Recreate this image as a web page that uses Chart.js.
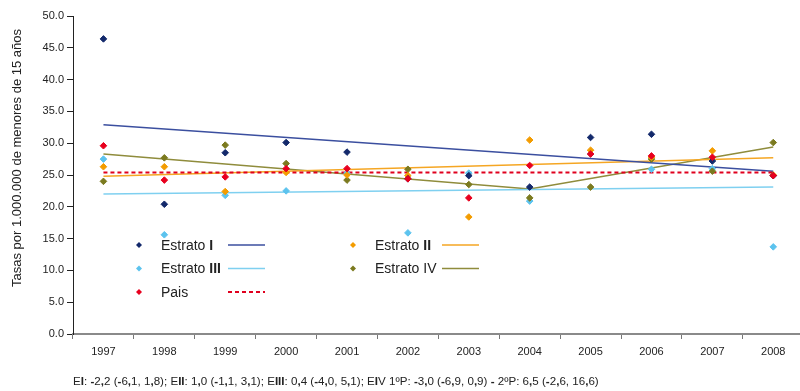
<!DOCTYPE html>
<html>
<head>
<meta charset="utf-8">
<script src="https://cdn.jsdelivr.net/npm/chart.js@4"></script>
<style>
  html, body { margin: 0; padding: 0; background: #fff; overflow: hidden; }
  #wrap { position: relative; width: 808px; height: 391px; }
  #note {
    position: absolute; left: 73px; top: 374px;
    font: 11.6px "Liberation Sans", Arial, sans-serif; color: #222; white-space: nowrap;
  }
  #note b { font-weight: bold; }
</style>
</head>
<body>
<div id="wrap">
  <canvas id="c" width="808" height="391"></canvas>
  <div id="note">E<b>I</b>: <b>-</b>2<b>,</b>2 (<b>-</b>6<b>,</b>1, 1<b>,</b>8); E<b>II</b>: 1<b>,</b>0 (<b>-</b>1<b>,</b>1, 3<b>,</b>1); E<b>III</b>: 0<b>,</b>4 (<b>-</b>4<b>,</b>0, 5<b>,</b>1); E<b>I</b>V 1ºP: <b>-</b>3<b>,</b>0 (<b>-</b>6<b>,</b>9, 0<b>,</b>9) <b>-</b> 2ºP: 6<b>,</b>5 (<b>-</b>2<b>,</b>6, 16<b>,</b>6)</div>
</div>
<script>
// data
const years = ['1997', '1998', '1999', '2000', '2001', '2002', '2003', '2004', '2005', '2006', '2007', '2008'];
const estratoI   = [46.4, 20.4, 28.5, 30.1, 28.6, 24.4, 24.9, 23.1, 30.9, 31.4, 27.2, 24.9];
const estratoII  = [26.3, 26.3, 22.4, 25.4, 25.0, 24.9, 18.4, 30.5, 28.9, 27.8, 28.8, 25.0];
const estratoIII = [27.5, 15.6, 21.8, 22.5, 25.3, 15.9, 25.3, 20.9, 28.3, 25.9, 26.0, 13.7];
const estratoIV  = [24.0, 27.7, 29.7, 26.8, 24.2, 25.9, 23.5, 21.4, 23.1, 27.5, 25.6, 30.1];
const pais       = [29.6, 24.2, 24.7, 26.0, 26.0, 24.4, 21.4, 26.5, 28.3, 28.0, 27.8, 24.9];

// trend lines (end points / joinpoint only)
const trendI    = [32.9, null, null, null, null, null, null, null, null, null, null, 25.6];
const trendII   = [24.8, null, null, null, null, null, null, null, null, null, null, 27.7];
const trendIII  = [22.0, null, null, null, null, null, null, null, null, null, null, 23.1];
const trendIV   = [28.3, null, null, null, null, null, null, 22.8, null, null, null, 29.4];
const trendPais = [25.4, null, null, null, null, null, null, null, null, null, null, 25.4];

const yTicks = [0, 5, 10, 15, 20, 25, 30, 35, 40, 45, 50];
const yTitle = 'Tasas por 1.000.000 de menores de 15 años';

const FONT = '"Liberation Sans", Arial, sans-serif';

const C = {
    I:    { pt: '#13296b', ln: '#3b4f9f' },
    II:   { pt: '#f39c00', ln: '#f5a623' },
    III:  { pt: '#5cc3ee', ln: '#7fd0f0' },
    IV:   { pt: '#7b7a1f', ln: '#8f8c3c' },
    Pais: { pt: '#e8001e', ln: '#e0001e' }
};

function pts(data, color) {
    return {
        data: data, showLine: false,
        pointStyle: 'rectRot', pointRadius: 3.3, pointHoverRadius: 3.3,
        backgroundColor: color, borderColor: color, borderWidth: 1
    };
}
function trend(data, color, dash) {
    return {
        data: data, spanGaps: true, pointRadius: 0, borderColor: color,
        borderWidth: dash ? 2 : 1.5, borderDash: dash ? [4, 3] : [], tension: 0
    };
}

// LEGEND (inside plot area) + y title
const legendItems = [
    { col: 0, row: 0, c: C.I,    txt: 'Estrato ', bold: 'I' },
    { col: 0, row: 1, c: C.III,  txt: 'Estrato ', bold: 'III' },
    { col: 0, row: 2, c: C.Pais, txt: 'Pais', bold: '', dash: true },
    { col: 1, row: 0, c: C.II,   txt: 'Estrato ', bold: 'II' },
    { col: 1, row: 1, c: C.IV,   txt: 'Estrato IV', bold: '' }
];

const legendPlugin = {
    id: 'legendBox',
    afterDraw(chart) {
        const ctx = chart.ctx;
        ctx.save();
        legendItems.forEach(it => {
            const x0 = 139 + it.col * 214;
            const y = 245 + it.row * 23.5;
            ctx.fillStyle = it.c.pt;
            ctx.beginPath();
            ctx.moveTo(x0, y - 3); ctx.lineTo(x0 + 3, y); ctx.lineTo(x0, y + 3); ctx.lineTo(x0 - 3, y);
            ctx.closePath(); ctx.fill();
            ctx.fillStyle = '#222';
            ctx.textBaseline = 'middle';
            ctx.font = '14px ' + FONT;
            ctx.fillText(it.txt, x0 + 22, y + 1);
            if (it.bold) {
                const w = ctx.measureText(it.txt).width;
                ctx.font = 'bold 14px ' + FONT;
                ctx.fillText(it.bold, x0 + 22 + w, y + 1);
            }
            ctx.strokeStyle = it.c.ln;
            ctx.lineWidth = it.dash ? 2 : 1.5;
            ctx.setLineDash(it.dash ? [4, 3] : []);
            ctx.beginPath();
            ctx.moveTo(x0 + 89, y); ctx.lineTo(x0 + 126, y);
            ctx.stroke();
        });

        // y axis title, placed like the original
        ctx.setLineDash([]);
        ctx.translate(17, 158);
        ctx.rotate(-Math.PI / 2);
        ctx.fillStyle = '#222';
        ctx.font = '13px ' + FONT;
        ctx.textAlign = 'center';
        ctx.textBaseline = 'middle';
        ctx.fillText(yTitle, 0, 0);
        ctx.restore();
    }
};

new Chart(document.getElementById('c'), {
    type: 'line',
    data: {
        labels: years,
        datasets: [
            pts(pais, C.Pais.pt),
            pts(estratoI, C.I.pt),
            pts(estratoII, C.II.pt),
            pts(estratoIV, C.IV.pt),
            pts(estratoIII, C.III.pt),
            trend(trendPais, C.Pais.ln, true),
            trend(trendI, C.I.ln),
            trend(trendII, C.II.ln),
            trend(trendIII, C.III.ln),
            trend(trendIV, C.IV.ln)
        ]
    },
    options: {
        responsive: false,
        animation: false,
        devicePixelRatio: 1,
        layout: { padding: { top: 16, right: 1, bottom: 33, left: 0 } },
        plugins: {
            legend: { display: false },
            tooltip: { enabled: false }
        },
        scales: {
            x: {
                offset: true,
                grid: { offset: true, drawOnChartArea: false, tickLength: 5, color: '#777' },
                border: { color: '#8a8a8a', width: 2 },
                ticks: { color: '#222', font: { family: FONT, size: 11 }, padding: 6, maxRotation: 0 },
                afterFit(s) { s.height = 24; }
            },
            y: {
                min: 0, max: 50,
                afterBuildTicks(s) { s.ticks = yTicks.map(v => ({ value: v })); },
                grid: { drawOnChartArea: false, tickLength: 6, color: '#222' },
                border: { color: '#222', width: 1 },
                ticks: {
                    color: '#222', font: { family: FONT, size: 11 }, padding: 3,
                    callback: v => v.toFixed(1)
                },
                afterFit(s) { s.width = 73; }
            }
        }
    },
    plugins: [legendPlugin]
});
</script>
</body>
</html>
